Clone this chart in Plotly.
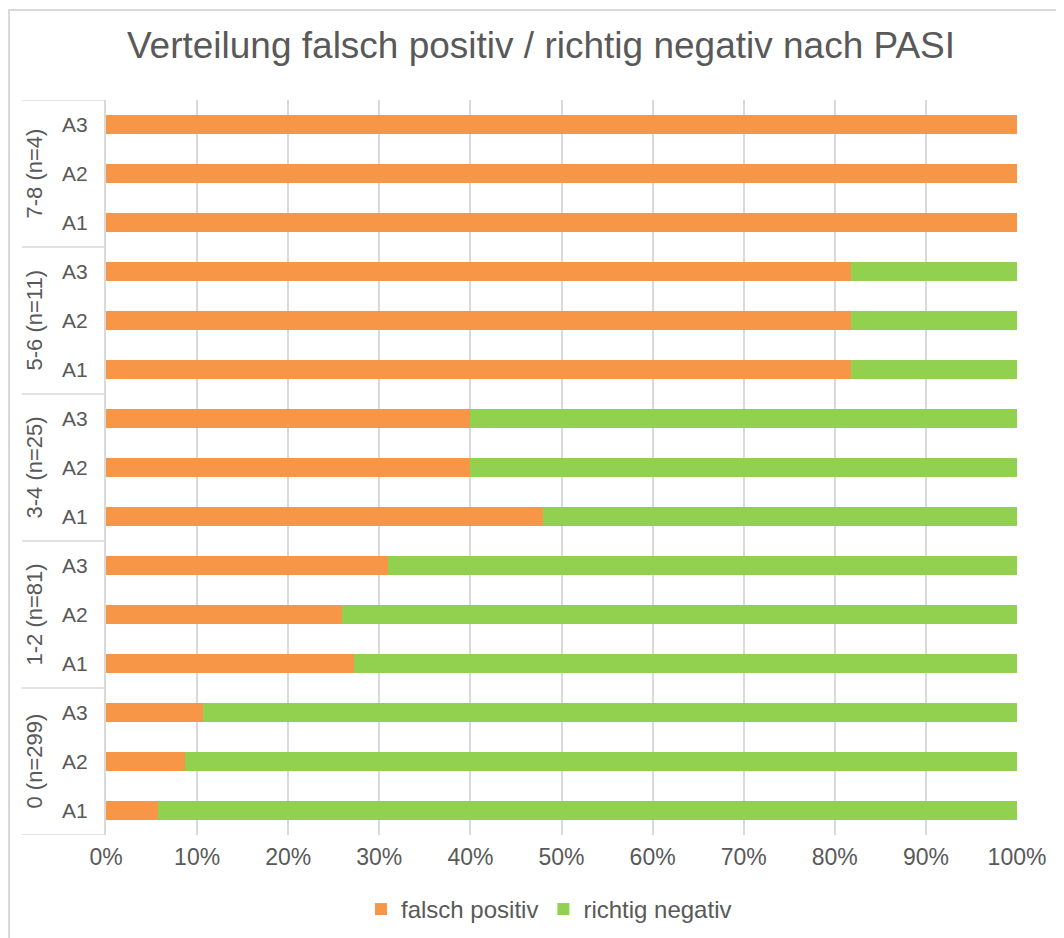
import plotly.graph_objects as go

groups = ["0 (n=299)", "1-2 (n=81)", "3-4 (n=25)", "5-6 (n=11)", "7-8 (n=4)"]
subs = ["A1", "A2", "A3"]
# share of "falsch positiv" per group (rows A1, A2, A3), bottom to top
falsch_positiv = [
    [0.057, 0.087, 0.107],   # 0 (n=299)
    [0.272, 0.259, 0.309],   # 1-2 (n=81)
    [0.48, 0.40, 0.40],      # 3-4 (n=25)
    [0.818, 0.818, 0.818],   # 5-6 (n=11)
    [1.0, 1.0, 1.0],         # 7-8 (n=4)
]
richtig_negativ = [[round(1 - v, 4) for v in row] for row in falsch_positiv]
x_ticks = [i / 10 for i in range(11)]

ORANGE = "#F79646"
GREEN = "#92D050"
TEXT = "#595959"
GRID = "#D9D9D9"
FONT = "Liberation Sans, Arial, sans-serif"

ypos, ylab, fp, rn = [], [], [], []
for gi, g in enumerate(groups):
    for si, s in enumerate(subs):
        ypos.append(gi * len(subs) + si)
        ylab.append(s)
        fp.append(falsch_positiv[gi][si])
        rn.append(richtig_negativ[gi][si])

fig = go.Figure()
fig.add_trace(go.Bar(y=ypos, x=fp, orientation="h", name="falsch positiv",
                     marker=dict(color=ORANGE, line=dict(width=0)), width=0.39))
fig.add_trace(go.Bar(y=ypos, x=rn, orientation="h", name="richtig negativ",
                     marker=dict(color=GREEN, line=dict(width=0)), width=0.39))

# page has an 8px body margin; work in screenshot pixel coords
OFF = 8
W, H = 1064 - OFF, 938 - OFF
PL, PR, PT, PB = 106, 1017, 100, 835.5   # plot area in screenshot coords
L, R, T, B = PL - OFF, W - (PR - OFF), PT - OFF, H - (PB - OFF)
pw, ph = PR - PL, PB - PT

def px_x(p):
    return (p - PL) / pw

def px_y(p):
    return (PB - p) / ph

shapes = []
n = len(subs)
for k in range(len(groups) + 1):
    yb = k * n - 0.5
    shapes.append(dict(type="line", xref="paper", yref="y", x0=px_x(22), x1=0,
                       y0=yb, y1=yb, line=dict(color=GRID, width=1.5)))
# outer chart border
shapes.append(dict(type="rect", xref="paper", yref="paper", x0=px_x(9), x1=px_x(1080),
                   y0=px_y(960), y1=px_y(10), line=dict(color=GRID, width=2),
                   fillcolor="rgba(0,0,0,0)", layer="below"))

annotations = []
for gi, g in enumerate(groups):
    annotations.append(dict(text=g, xref="paper", yref="y", x=px_x(34),
                            y=gi * n + 1, textangle=-90, showarrow=False,
                            font=dict(size=22, color=TEXT, family=FONT),
                            xanchor="center", yanchor="middle"))

fig.update_layout(
    width=W, height=H,
    margin=dict(l=L, r=R, t=T, b=B, autoexpand=False),
    barmode="stack",
    paper_bgcolor="white", plot_bgcolor="white",
    font=dict(family=FONT, color=TEXT),
    title=dict(text="Verteilung falsch positiv / richtig negativ nach PASI",
               x=px_x(541), xanchor="center", xref="paper",
               y=1 - (45 - OFF) / H, yanchor="middle",
               font=dict(size=37, color=TEXT, family=FONT)),
    xaxis=dict(range=[0, 1], tickvals=x_ticks, tickformat=".0%",
               showgrid=True, gridcolor=GRID, gridwidth=2, zeroline=False,
               showline=False, ticks="", tickfont=dict(size=23, color=TEXT),
               ticklabelstandoff=6, automargin=False),
    yaxis=dict(tickvals=ypos, ticktext=ylab, range=[-0.5, len(ypos) - 0.5],
               showgrid=False, zeroline=False, showline=True, linecolor=GRID,
               linewidth=2, ticks="", ticklabelstandoff=12,
               tickfont=dict(size=21, color=TEXT), automargin=False),
    legend=dict(orientation="h", x=px_x(549), xanchor="center",
                y=px_y(910), yanchor="middle", font=dict(size=24, color=TEXT),
                traceorder="normal"),
    shapes=shapes,
    annotations=annotations,
    bargap=0.6,
)

fig.write_html("out.html")
